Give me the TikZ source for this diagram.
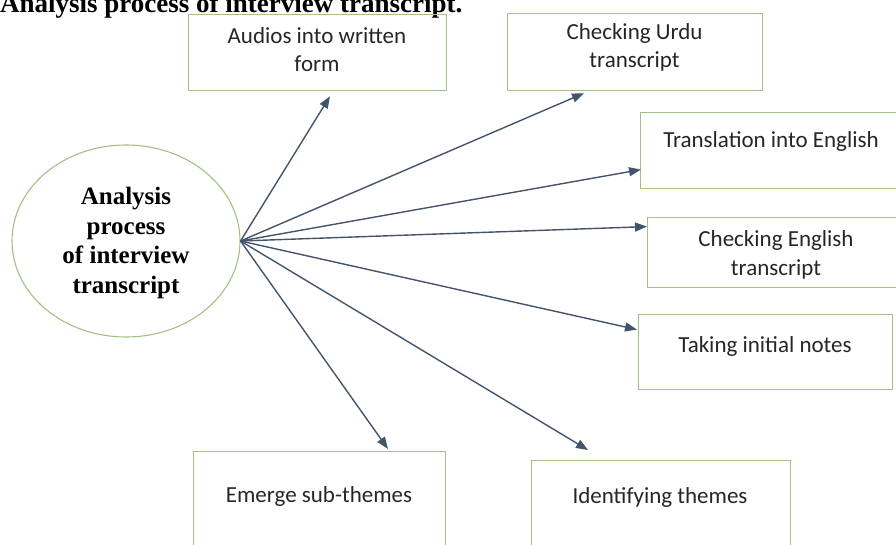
\documentclass[tikz,border=0pt]{standalone}
\usepackage{fontspec}
\setmainfont{Liberation Serif}
\newfontfamily\boxfont{Carlito}
\usetikzlibrary{arrows.meta,calc,shapes.geometric}
\definecolor{arrowc}{HTML}{44546A}
\definecolor{boxc}{HTML}{A4BF85}
\definecolor{txtc}{HTML}{262626}
\begin{document}
\begin{tikzpicture}[x=1pt,y=-1pt,
  stepbox/.style={draw=boxc, line width=1.2pt, rectangle, inner sep=0pt, anchor=north west},
  boxtext/.style={font=\boxfont\fontsize{23}{28.5}\selectfont, text=txtc, align=center, inner sep=0pt, anchor=base},
  conn/.style={draw=arrowc, line width=1.4pt, -{Triangle[length=12pt,width=9pt]}}]
\useasboundingbox (0,0) rectangle (896,545);
\node[font=\bfseries\fontsize{27}{32}\selectfont, anchor=base west, inner sep=0pt] (title) at (0,13) {Analysis process of interview transcript.};
\node[draw=boxc, line width=1.1pt, ellipse, minimum width=228pt, minimum height=192pt, inner sep=0pt] (el) at (126,241) {};
\node[font=\bfseries\fontsize{25}{29.5}\selectfont, align=center, inner sep=0pt] (eltext) at (126,243) {Analysis\\process\\of interview\\transcript};
% boxes
\node[stepbox, minimum width=258pt, minimum height=76pt] (b1) at (188,14) {};
\node[boxtext] (t1) at (317,72) {Audios into written\\form};
\node[stepbox, minimum width=255pt, minimum height=77pt] (b2) at (507,13) {};
\node[boxtext] (t2) at (634.5,68) {Checking Urdu\\transcript};
\node[stepbox, minimum width=262pt, minimum height=76pt] (b3) at (640,112) {};
\node[boxtext] (t3) at (771,148) {Translation into English};
\node[stepbox, minimum width=256pt, minimum height=70pt] (b4) at (647,217) {};
\node[boxtext] (t4) at (776,275) {Checking English\\transcript};
\node[stepbox, minimum width=254pt, minimum height=75pt] (b5) at (638,314) {};
\node[boxtext] (t5) at (765,352) {Taking initial notes};
\node[stepbox, minimum width=252pt, minimum height=120pt] (b6) at (193,451) {};
\node[boxtext] (t6) at (319,502) {Emerge sub-themes};
\node[stepbox, minimum width=259pt, minimum height=110pt] (b7) at (531,460) {};
\node[boxtext] (t7) at (660,503) {Identifying themes};
% arrow tips
\coordinate (a1) at ($(b1.south west)+(142,5)$);
\coordinate (a2) at ($(b2.south west)+(77,2)$);
\coordinate (a3) at ($(b3.west)+(1,19)$);
\coordinate (a4) at ($(b4.west)+(0,-26)$);
\coordinate (a5) at ($(b5.west)+(-1,-22.5)$);
\coordinate (a6) at ($(b6.north west)+(195,-2)$);
\coordinate (a7) at ($(b7.north west)+(57,-10)$);
\foreach \t in {a1,a2,a3,a4,a5,a6,a7}
  \draw[conn] (el.east) -- (\t);
\end{tikzpicture}
\end{document}
